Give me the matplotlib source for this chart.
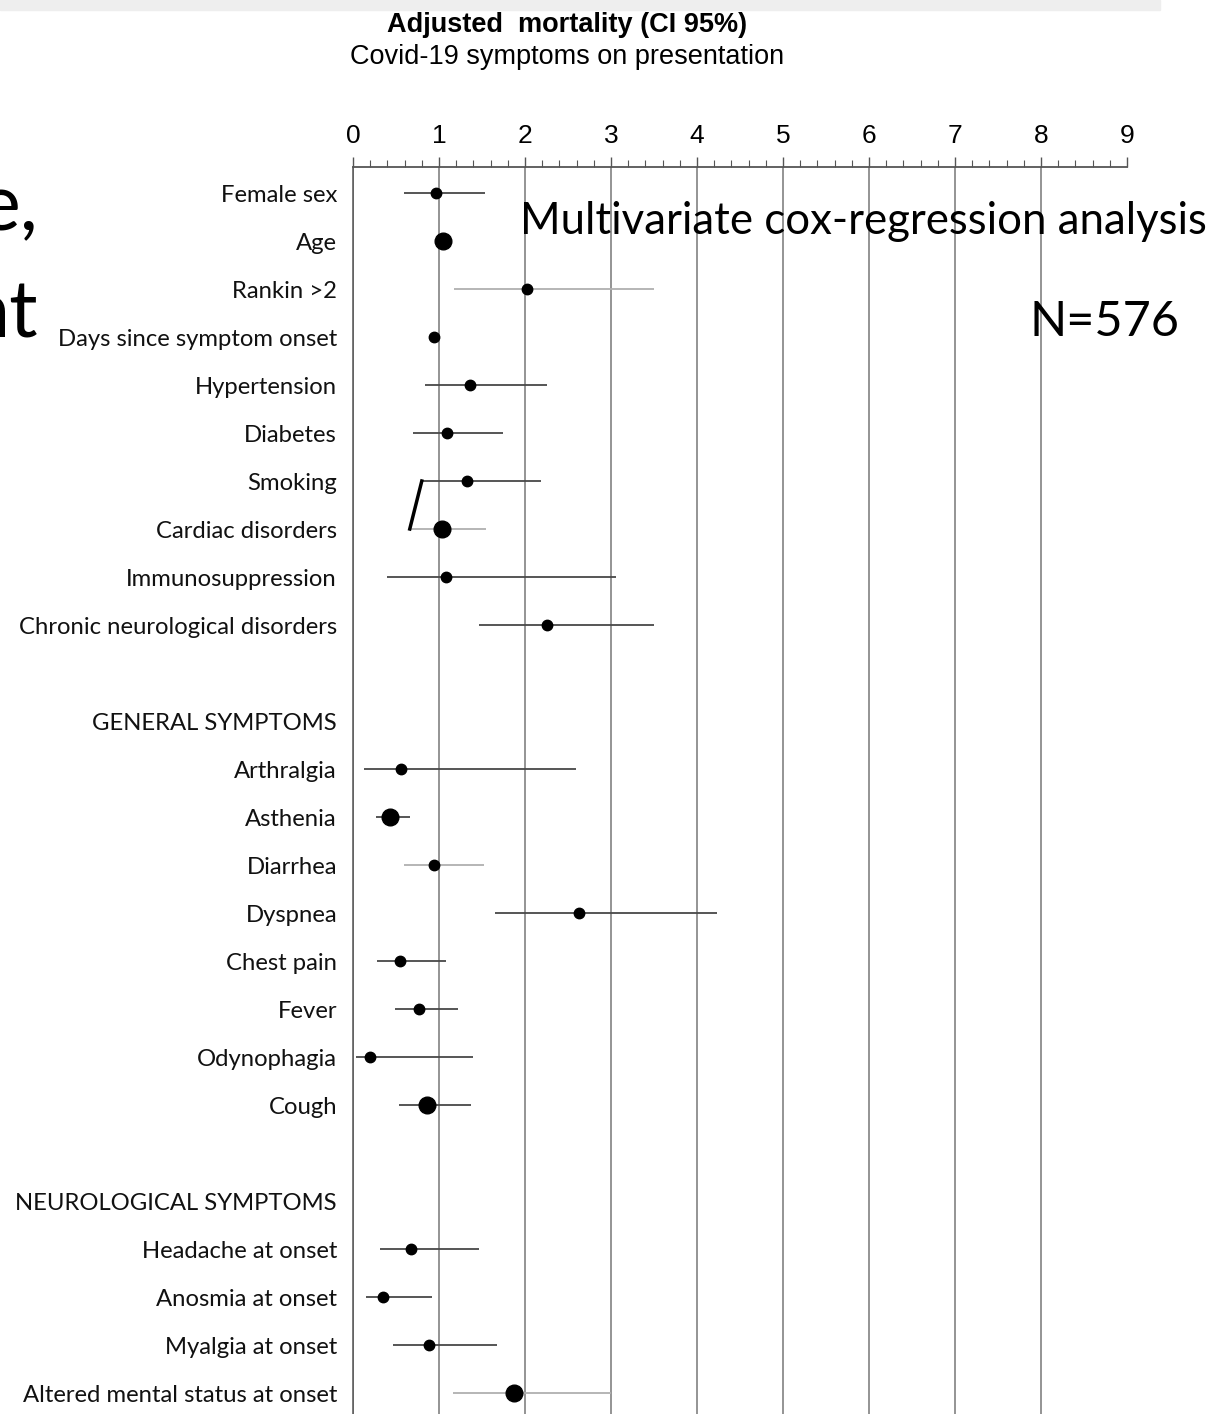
import numpy as np
import matplotlib.pyplot as plt
from matplotlib.patches import Rectangle

# Row labels (top to bottom), empty string = spacer row
labels = ['Female sex', 'Age', 'Rankin >2', 'Days since symptom onset',
          'Hypertension', 'Diabetes', 'Smoking', 'Cardiac disorders',
          'Immunosuppression', 'Chronic neurological disorders', '',
          'GENERAL SYMPTOMS', 'Arthralgia', 'Asthenia', 'Diarrhea', 'Dyspnea',
          'Chest pain', 'Fever', 'Odynophagia', 'Cough', '',
          'NEUROLOGICAL SYMPTOMS', 'Headache at onset', 'Anosmia at onset',
          'Myalgia at onset', 'Altered mental status at onset']

# hazard ratio estimates and 95% CI (nan = no row / no interval shown)
nan = np.nan
hr = [0.96, 1.05, 2.02, 0.94, 1.36, 1.09, 1.32, 1.03, 1.08, 2.25, nan,
      nan, 0.56, 0.43, 0.94, 2.63, 0.55, 0.77, 0.20, 0.86, nan,
      nan, 0.67, 0.35, 0.88, 1.87]
ci_low = [0.59, nan, 1.18, nan, 0.84, 0.70, 0.80, 0.66, 0.39, 1.46, nan,
          nan, 0.13, 0.27, 0.59, 1.65, 0.28, 0.49, 0.03, 0.53, nan,
          nan, 0.31, 0.15, 0.46, 1.16]
ci_high = [1.53, nan, 3.50, nan, 2.26, 1.74, 2.19, 1.55, 3.06, 3.50, nan,
           nan, 2.59, 0.66, 1.52, 4.23, 1.08, 1.22, 1.40, 1.37, nan,
           nan, 1.47, 0.92, 1.67, 3.00]
big = [0, 1, 0, 0, 0, 0, 0, 1, 0, 0, 0,
       0, 0, 1, 0, 0, 0, 0, 0, 1, 0,
       0, 0, 0, 0, 1]
light = [0, 0, 1, 0, 0, 0, 0, 1, 0, 0, 0,
         0, 0, 0, 1, 0, 0, 0, 0, 0, 0,
         0, 0, 0, 0, 1]

W, H = 1219, 1414
fig = plt.figure(figsize=(12.19, 14.14), dpi=100)
# light grey strip of the slide at the top
fig.patches.append(Rectangle((0, 1 - 10 / H), 1160 / W, 10 / H,
                             transform=fig.transFigure, color='#eeeeee', zorder=0))

ax = fig.add_axes([353 / W, 0, (1127 - 353) / W, 1 - 167 / H])
n = len(labels)
ax.set_xlim(0, 9)
ax.set_ylim((1414 - 193) / 48, -(193 - 167) / 48)

# CI lines and points
for i in range(n):
    if np.isnan(hr[i]):
        continue
    if not np.isnan(ci_low[i]):
        ax.hlines(i, ci_low[i], ci_high[i], color='#b0b0b0' if light[i] else '#484848',
                  lw=1.3, zorder=3)
    ax.plot(hr[i], i, 'o', color='black', ms=12 if big[i] else 7.5, zorder=4)

# odd slanted stroke between Smoking and Cardiac disorders
ax.plot([ci_low[6], ci_low[7]], [6, 7], color='black', lw=2.5, zorder=4)

# axis on top
ax.xaxis.tick_top()
ax.set_xticks(range(10))
ax.set_xticks(np.arange(0, 9.01, 0.2), minor=True)
ax.tick_params(axis='x', which='major', length=7, width=1, color='#555555',
               labelsize=19, pad=6.5)
ax.tick_params(axis='x', which='minor', length=5, width=0.8, color='#555555')
for t in ax.get_xticklabels():
    t.set_fontfamily('Liberation Sans')
ax.grid(axis='x', which='major', color='#777777', lw=1.1)
ax.xaxis.get_gridlines()[-1].set_visible(False)

ax.set_yticks(range(n))
ax.set_yticklabels(labels, fontfamily='Lato', fontsize=17.2, color='#111111')
ax.tick_params(axis='y', length=0, pad=11.5)

for s in ['right', 'bottom']:
    ax.spines[s].set_visible(False)
ax.spines['top'].set_color('#555555')
ax.spines['top'].set_linewidth(1.3)
ax.spines['left'].set_color('#555555')
ax.spines['left'].set_linewidth(1.1)

# titles
fig.text(567 / W, 1 - 25 / H, 'Adjusted  mortality (CI 95%)', ha='center', va='center',
         fontfamily='Liberation Sans', fontweight='bold', fontsize=19.5)
fig.text(567 / W, 1 - 57 / H, 'Covid-19 symptoms on presentation', ha='center', va='center',
         fontfamily='Liberation Sans', fontsize=19.5)

# slide overlay text
fig.text(520 / W, 1 - 222 / H, 'Multivariate cox-regression analysis', ha='left', va='center',
         fontfamily='Lato', fontsize=31.5)
fig.text(1030 / W, 1 - 322 / H, 'N=576', ha='left', va='center',
         fontfamily='Lato', fontsize=35)
# word endings of the slide text, cut by the left edge as in the screenshot
fig.text(38 / W, 1 - 230 / H, 'e,', ha='right', va='baseline',
         fontfamily='Lato', fontsize=57)
fig.text(38 / W, 1 - 338 / H, 'nt', ha='right', va='baseline',
         fontfamily='Lato', fontsize=57)

plt.savefig('out.png', dpi=100)
